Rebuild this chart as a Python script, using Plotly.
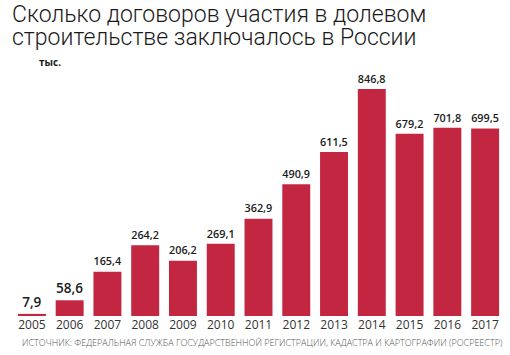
import plotly.graph_objects as go

years = ["2005", "2006", "2007", "2008", "2009", "2010", "2011", "2012", "2013", "2014", "2015", "2016", "2017"]
values = [7.9, 58.6, 165.4, 264.2, 206.2, 269.1, 362.9, 490.9, 611.5, 846.8, 679.2, 701.8, 699.5]
labels = [f"{v:.1f}".replace(".", ",") for v in values]

title_lines = ["Сколько договоров участия в долевом", "строительстве заключалось в России"]
unit = "тыс."
source = "ИСТОЧНИК: ФЕДЕРАЛЬНАЯ СЛУЖБА ГОСУДАРСТВЕННОЙ РЕГИСТРАЦИИ, КАДАСТРА И КАРТОГРАФИИ (РОСРЕЕСТР)"

W, H = 510, 355
ml, mr, mt, mb = 12.6, 5.6, 80, 39
pw, ph = W - ml - mr, H - mt - mb

def px(x):
    return (x - ml) / pw

def py(y):
    return (H - mb - y) / ph

TF = "Roboto"

fig = go.Figure(go.Bar(
    x=years, y=values, text=labels, textposition="outside",
    textfont=dict(family="Open Sans", size=13.5, color="#1a1a1a", weight=600),
    marker=dict(color="#C32640", line=dict(width=0)),
    cliponaxis=False,
    hoverinfo="skip",
))

ann = []
ann.append(dict(text=title_lines[0], x=px(10), y=py(30), xref="paper", yref="paper",
                xanchor="left", yanchor="bottom", showarrow=False,
                font=dict(family=TF, size=23, color="#1a1a1a", weight=300)))
ann.append(dict(text=title_lines[1], x=px(10), y=py(53), xref="paper", yref="paper",
                xanchor="left", yanchor="bottom", showarrow=False,
                font=dict(family=TF, size=23, color="#1a1a1a", weight=300)))
ann.append(dict(text=unit, x=px(37), y=py(62), xref="paper", yref="paper",
                xanchor="left", yanchor="middle", showarrow=False,
                font=dict(family="Open Sans", size=10, color="#1a1a1a", weight=700)))
ann.append(dict(text=source, x=px(20), y=py(342), xref="paper", yref="paper",
                xanchor="left", yanchor="middle", showarrow=False,
                font=dict(family="Open Sans", size=9, color="#555555", weight=300)))

fig.update_layout(
    width=W, height=H,
    margin=dict(l=ml, r=mr, t=mt, b=mb, pad=0),
    paper_bgcolor="white", plot_bgcolor="white",
    bargap=0.26,
    showlegend=False,
    xaxis=dict(type="category", range=[-0.5, 12.5], showgrid=False, showline=False,
               ticks="", tickfont=dict(family="Open Sans", size=12, color="#333333")),
    yaxis=dict(range=[0, 880], visible=False, showgrid=False),
    annotations=ann,
)

fig.write_html("out.html", config={"displayModeBar": False},
               post_script="document.body.style.margin='0px';document.body.style.overflow='hidden';")
